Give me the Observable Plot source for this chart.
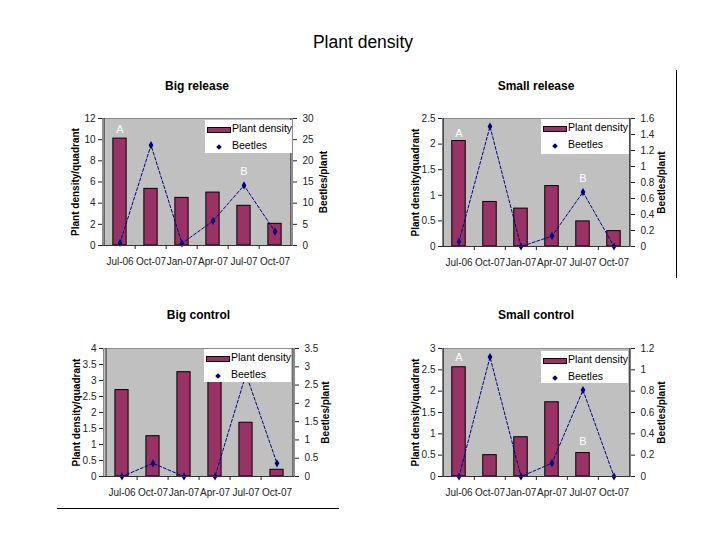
<!DOCTYPE html>
<html><head><meta charset="utf-8">
<script src="https://cdn.jsdelivr.net/npm/d3@7"></script>
<script src="https://cdn.jsdelivr.net/npm/@observablehq/plot@0.6"></script>
<style>
body{margin:0;background:#fff;font-family:Arial,"Liberation Sans",sans-serif;}
#root{position:relative;width:720px;height:540px;overflow:hidden;background:#fff;}
.title{position:absolute;font-size:17.5px;transform:translateX(-50%);white-space:nowrap;color:#000;}
.ptitle{position:absolute;font-size:12px;font-weight:bold;transform:translateX(-50%);white-space:nowrap;color:#000;}
.legend{position:absolute;background:#fff;font-size:10.5px;color:#000;}
.legend .sw{position:absolute;background:#993366;border:1px solid #000;}
.legend .dm{position:absolute;width:4px;height:4px;background:#000080;transform:rotate(45deg);}
.legend .lt{position:absolute;white-space:nowrap;}
.line{position:absolute;background:#000;}
svg{position:absolute;overflow:visible;}
</style></head><body><div id="root"></div>
<script>
// ---- data ----
const months = ["Jul-06","Oct-07","Jan-07","Apr-07","Jul-07","Oct-07"];

const bigReleasePlants   = [10.1, 5.35, 4.5, 5.0, 3.75, 2.05];
const bigReleaseBeetles  = [0.6, 23.7, 0.5, 5.8, 14.2, 3.3];
const bigReleaseLeftTicks  = [0, 2, 4, 6, 8, 10, 12];
const bigReleaseRightTicks = [0, 5, 10, 15, 20, 25, 30];
const bigReleaseNotes = [{label: "A", i: 0, v: 11.0}, {label: "B", i: 4, v: 7.0}];

const smallReleasePlants  = [2.06, 0.87, 0.74, 1.18, 0.49, 0.30];
const smallReleaseBeetles = [0.06, 1.50, 0.0, 0.13, 0.68, 0.0];
const smallReleaseLeftTicks  = [0, 0.5, 1, 1.5, 2, 2.5];
const smallReleaseRightTicks = [0, 0.2, 0.4, 0.6, 0.8, 1, 1.2, 1.4, 1.6];
const smallReleaseNotes = [{label: "A", i: 0, v: 2.2}, {label: "B", i: 4, v: 1.33}];

const bigControlPlants  = [2.70, 1.26, 3.26, 3.1, 1.68, 0.21];
const bigControlBeetles = [0, 0.36, 0, 0, 2.8, 0.36];
const bigControlLeftTicks  = [0, 0.5, 1, 1.5, 2, 2.5, 3, 3.5, 4];
const bigControlRightTicks = [0, 0.5, 1, 1.5, 2, 2.5, 3, 3.5];
const bigControlNotes = [];

const smallControlPlants  = [2.56, 0.50, 0.92, 1.74, 0.55, 0];
const smallControlBeetles = [0, 1.12, 0, 0.125, 0.81, 0];
const smallControlLeftTicks  = [0, 0.5, 1, 1.5, 2, 2.5, 3];
const smallControlRightTicks = [0, 0.2, 0.4, 0.6, 0.8, 1, 1.2];
const smallControlNotes = [{label: "A", i: 0, v: 2.79}, {label: "B", i: 4, v: 0.82}];

const mainTitle = "Plant density";
const leftLabel = "Plant density/quadrant";
const rightLabel = "Beetles/plant";
const legendLabels = ["Plant density", "Beetles"];

// ---- layout ----
const panels = [
  {title: "Big release", plants: bigReleasePlants, beetles: bigReleaseBeetles, lt: bigReleaseLeftTicks, rt: bigReleaseRightTicks, notes: bigReleaseNotes,
   box: {x0: 102, x1: 292, y0: 118, y1: 245}, leg: {x: 205, y: 120, w: 87, h: 33}, ty: 79},
  {title: "Small release", plants: smallReleasePlants, beetles: smallReleaseBeetles, lt: smallReleaseLeftTicks, rt: smallReleaseRightTicks, notes: smallReleaseNotes,
   box: {x0: 442, x1: 630, y0: 118, y1: 246}, leg: {x: 541, y: 119, w: 88, h: 35}, ty: 79},
  {title: "Big control", plants: bigControlPlants, beetles: bigControlBeetles, lt: bigControlLeftTicks, rt: bigControlRightTicks, notes: bigControlNotes,
   box: {x0: 103, x1: 294, y0: 348, y1: 476}, leg: {x: 204, y: 349, w: 87, h: 33}, ty: 308},
  {title: "Small control", plants: smallControlPlants, beetles: smallControlBeetles, lt: smallControlLeftTicks, rt: smallControlRightTicks, notes: smallControlNotes,
   box: {x0: 442, x1: 630, y0: 348, y1: 476}, leg: {x: 541, y: 351, w: 87, h: 32}, ty: 308}
];

const root = document.getElementById("root");
const t = document.createElement("div");
t.className = "title"; t.textContent = mainTitle;
t.style.left = "363px"; t.style.top = "32px";
root.appendChild(t);

const fmt = d => String(+d.toFixed(2));

for (const p of panels) {
  const ml = 45, mr = 50, mt = 40, mb = 35;
  const w = p.box.x1 - p.box.x0, h = p.box.y1 - p.box.y0;
  const yMax = p.lt[p.lt.length - 1];
  const k = yMax / p.rt[p.rt.length - 1];
  const bw = w / months.length;
  const rows = months.map((m, i) => ({i, plant: p.plants[i], beetle: p.beetles[i] * k}));
  const svg = Plot.plot({
    width: w + ml + mr, height: h + mt + mb,
    marginLeft: ml, marginRight: mr, marginTop: mt, marginBottom: mb,
    style: {fontFamily: "Arial, 'Liberation Sans', sans-serif", fontSize: "10px", background: "transparent", color: "#222"},
    x: {type: "band", domain: d3.range(months.length), padding: 0},
    y: {domain: [0, yMax]},
    marks: [
      Plot.frame({fill: "#c0c0c0", stroke: "#8c8c8c"}),
      Plot.barY(rows, {x: "i", y: "plant", fill: "#993366", stroke: "#000", strokeWidth: 1, insetLeft: bw * 0.28, insetRight: bw * 0.28}),
      Plot.line(rows, {x: "i", y: "beetle", stroke: "#000080", strokeWidth: 1, strokeDasharray: "3,2"}),
      Plot.dot(rows, {x: "i", y: "beetle", symbol: "diamond", fill: "#000080", stroke: "none", r: 2.5}),
      Plot.text(p.notes, {x: "i", y: "v", text: "label", fill: "white", fontSize: 11}),
      Plot.ruleY([0], {stroke: "#333"}),
      Plot.ruleX([0], {dx: -bw / 2, stroke: "#333"}),
      Plot.ruleX([months.length - 1], {dx: bw / 2, stroke: "#333"}),
      Plot.axisY(p.lt, {anchor: "left", tickSize: 4, tickPadding: 3, label: null, tickFormat: fmt, fill: "#222"}),
      Plot.axisY(p.rt.map(v => v * k), {anchor: "right", tickSize: 4, tickPadding: 6, label: null, tickFormat: d => fmt(d / k), fill: "#222"}),
      Plot.axisX({tickSize: 0, tickPadding: 12, tickFormat: i => months[i], label: null, fill: "#222"}),
      Plot.axisX(d3.range(1, months.length), {tickSize: 4, tickFormat: () => "", dx: -bw / 2, label: null}),
      Plot.text([leftLabel], {text: d => d, frameAnchor: "left", textAnchor: "middle", rotate: -90, dx: -27, fontWeight: "bold", fontSize: 10, fill: "#000"}),
      Plot.text([rightLabel], {text: d => d, frameAnchor: "right", textAnchor: "middle", rotate: -90, dx: 31, fontWeight: "bold", fontSize: 10, fill: "#000"})
    ]
  });
  svg.style.left = (p.box.x0 - ml) + "px";
  svg.style.top = (p.box.y0 - mt) + "px";
  root.appendChild(svg);

  const pt = document.createElement("div");
  pt.className = "ptitle"; pt.textContent = p.title;
  pt.style.left = ((p.box.x0 + p.box.x1) / 2) + "px"; pt.style.top = p.ty + "px";
  root.appendChild(pt);

  const lg = document.createElement("div");
  lg.className = "legend";
  lg.style.left = p.leg.x + "px"; lg.style.top = p.leg.y + "px";
  lg.style.width = p.leg.w + "px"; lg.style.height = p.leg.h + "px";
  lg.innerHTML = `<div class="sw" style="left:2px;top:7px;width:22px;height:4px"></div>
    <div class="lt" style="left:27px;top:2px">${legendLabels[0]}</div>
    <div class="dm" style="left:12px;top:25px"></div>
    <div class="lt" style="left:27px;top:19px">${legendLabels[1]}</div>`;
  root.appendChild(lg);
}

const hl = document.createElement("div");
hl.className = "line"; hl.style.left = "57px"; hl.style.top = "508px"; hl.style.width = "282px"; hl.style.height = "1px";
root.appendChild(hl);
const vl = document.createElement("div");
vl.className = "line"; vl.style.left = "676px"; vl.style.top = "70px"; vl.style.width = "1px"; vl.style.height = "208px";
root.appendChild(vl);
</script></body></html>
